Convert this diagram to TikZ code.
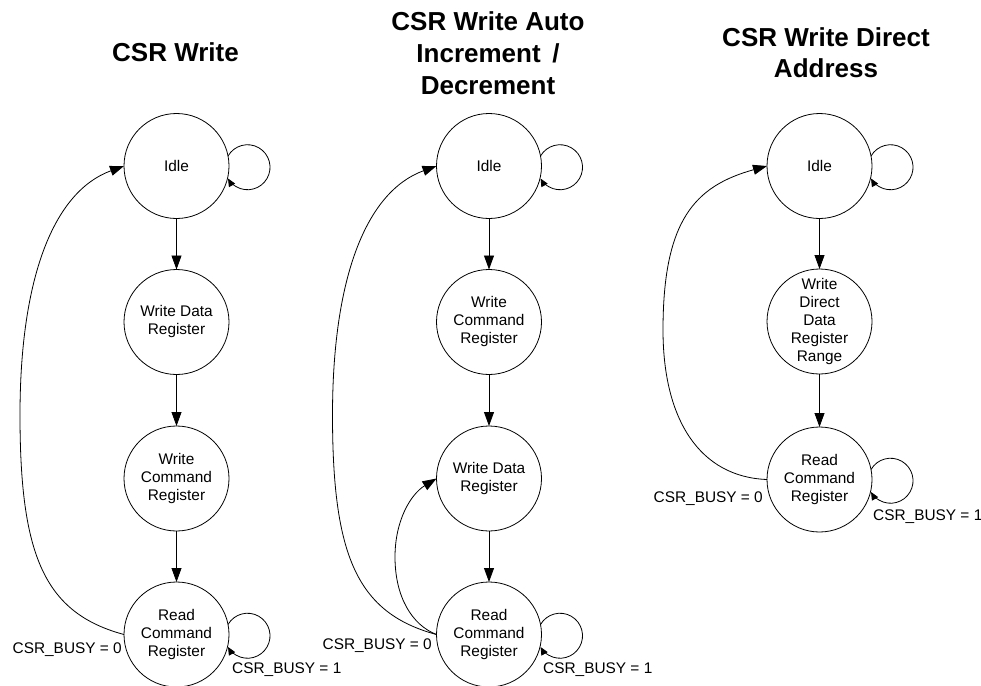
\documentclass[tikz,border=0pt]{standalone}
\usepackage{fontspec}
\setmainfont{Liberation Sans}
\usetikzlibrary{arrows.meta}
\tikzset{
  state/.style={circle,draw,line width=0.8pt,minimum size=105pt,inner sep=0pt,outer sep=0pt,
    align=center,font=\fontsize{15.4}{18}\selectfont},
  arr/.style={line width=0.8pt,-{Triangle[length=14pt,width=10pt]}},
  looparr/.style={line width=0.8pt,-{Triangle[length=8pt,width=7pt]}},
  title/.style={align=center,inner sep=0pt,font=\fontsize{26}{31.5}\selectfont\bfseries},
  lbl/.style={inner sep=0pt,font=\fontsize{15.4}{18}\selectfont}
}
\begin{document}
\begin{tikzpicture}[x=1pt,y=1pt]
\useasboundingbox (0,0) rectangle (981,-685);
\clip (0,0) rectangle (981,-685);
% titles (base anchor = baseline of the last line)
\node[title,anchor=base] (t1) at (175.5,-61.3) {CSR Write};
\node[title,anchor=base] (t2) at (488,-94) {CSR Write Auto\\Increment \,/\\Decrement};
\node[title,anchor=base] (t3) at (826,-77.6) {CSR Write Direct\\Address};
% column 1
\node[state] (i1) at (176.5,-166) {Idle};
\node[state] (w1) at (176.5,-322) {Write Data\\Register};
\node[state] (c1) at (176.5,-478.5) {Write\\Command\\Register};
\node[state] (r1) at (176.5,-634.5) {Read\\Command\\Register};
\draw[arr] (i1) -- (w1);
\draw[arr] (w1) -- (c1);
\draw[arr] (c1) -- (r1);
\draw[looparr] (i1.11) arc[start angle=150,end angle=-150,radius=22.5];
\draw[looparr] (r1.11) arc[start angle=150,end angle=-150,radius=22.5];
\draw[arr] (r1.west) .. controls (44,-613) and (20,-555) .. (20,-415)
  .. controls (20,-278) and (53.5,-191.7) .. (i1.west);
\node[lbl,anchor=base east] (l10) at (122,-653.5) {CSR\_BUSY = 0};
\node[lbl,anchor=base west] (l11) at (232,-673.5) {CSR\_BUSY = 1};
% column 2
\node[state] (i2) at (489,-166) {Idle};
\node[state] (c2) at (489,-322) {Write\\Command\\Register};
\node[state] (w2) at (489,-478.5) {Write Data\\Register};
\node[state] (r2) at (489,-634.5) {Read\\Command\\Register};
\draw[arr] (i2) -- (c2);
\draw[arr] (c2) -- (w2);
\draw[arr] (w2) -- (r2);
\draw[looparr] (i2.11) arc[start angle=150,end angle=-150,radius=22.5];
\draw[looparr] (r2.11) arc[start angle=150,end angle=-150,radius=22.5];
\draw[arr] (r2.west) .. controls (356.5,-613) and (332.5,-555) .. (332.5,-415)
  .. controls (332.5,-278) and (366,-191.7) .. (i2.west);
\draw[arr] (r2.west) .. controls (412,-625) and (395,-597) .. (395,-557)
  .. controls (395,-520) and (411,-494) .. (w2.west);
\node[lbl,anchor=base east] (l20) at (432,-649.5) {CSR\_BUSY = 0};
\node[lbl,anchor=base west] (l21) at (543,-673.5) {CSR\_BUSY = 1};
% column 3
\node[state] (i3) at (819.5,-166) {Idle};
\node[state] (d3) at (819.5,-321.5) {Write\\Direct\\Data\\Register\\Range};
\node[state] (r3) at (819.5,-479.5) {Read\\Command\\Register};
\draw[arr] (i3) -- (d3);
\draw[arr] (d3) -- (r3);
\draw[looparr] (i3.11) arc[start angle=150,end angle=-150,radius=22.5];
\draw[looparr] (r3.11) arc[start angle=150,end angle=-150,radius=22.5];
\draw[arr] (r3.west) .. controls (700,-477) and (663,-420) .. (663,-330)
  .. controls (663,-220) and (695,-186) .. (i3.west);
\node[lbl,anchor=base east] (l30) at (763,-502.5) {CSR\_BUSY = 0};
\node[lbl,anchor=base west] (l31) at (873,-520.5) {CSR\_BUSY = 1};
\end{tikzpicture}
\end{document}
